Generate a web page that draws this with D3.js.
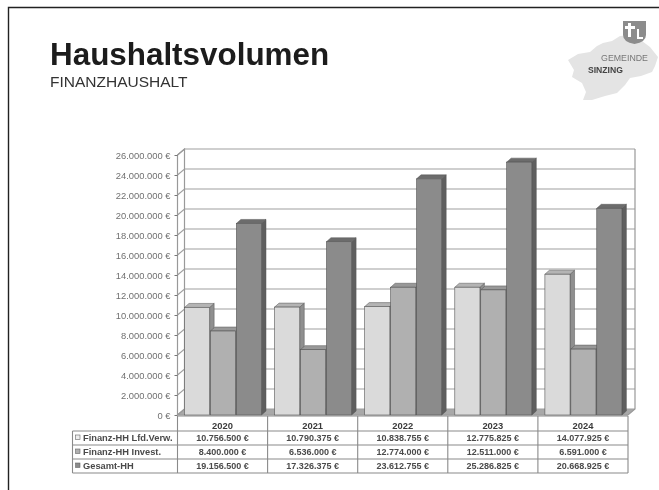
<!DOCTYPE html>
<html><head><meta charset="utf-8">
<script src="https://cdn.jsdelivr.net/npm/d3@7/dist/d3.min.js"></script>
<style>
html,body{margin:0;padding:0;background:#fff}
svg{display:block;font-family:"Liberation Sans",Arial,sans-serif;filter:blur(0.55px)}
</style></head><body>
<script>
const years = ["2020","2021","2022","2023","2024"];
const seriesNames = ["Finanz-HH Lfd.Verw.","Finanz-HH Invest.","Gesamt-HH"];
const lfdVerw = [10756500,10790375,10838755,12775825,14077925];
const invest = [8400000,6536000,12774000,12511000,6591000];
const gesamt = [19156500,17326375,23612755,25286825,20668925];
const seriesValues = [lfdVerw,invest,gesamt];
const title = "Haushaltsvolumen";
const subtitle = "FINANZHAUSHALT";

const faceColors = ["#dadada","#b0b0b0","#8b8b8b"];
const sideColors = ["#8f8f8f","#787878","#5f5f5f"];
const topColors = ["#b4b4b4","#989898","#6c6c6c"];
const keyColors = ["#eeeeee","#b0b0b0","#8b8b8b"];

const W=659,H=490;
const svg=d3.select("body").append("svg").attr("width",W).attr("height",H);
const DX=7,DY=-6;
const xLeft=177.5,xRight=628,y0=415,yTop=155;
const y=d3.scaleLinear().domain([0,26000000]).range([y0,yTop]);
const x=d3.scaleBand().domain(years).range([xLeft,xRight]);
const inner=d3.scaleBand().domain(d3.range(3)).range([7,84]).paddingInner(0.03);
const nf=d3.formatLocale({decimal:",",thousands:".",grouping:[3],currency:["","\u00a0€"]}).format(",.0f");
const eur=v=>nf(v)+" €";

// page frame
svg.append("path").attr("d",`M8.5,${H} V7.5 H${W}`).attr("fill","none").attr("stroke","#222").attr("stroke-width",1.4);

// headings
svg.append("text").attr("x",50).attr("y",65).attr("font-size",31.4).attr("font-weight","bold").attr("fill","#1c1c1c").text(title);
svg.append("text").attr("x",50).attr("y",87).attr("font-size",15.5).attr("fill","#333").text(subtitle);

// logo
const logo=svg.append("g");
logo.append("path").attr("fill","#e4e4e4").attr("d","M568,60 L578,54 L590,52 L597,46 L603,43 L612,41 L620,36 L630,35 L642,41 L650,47 L658,57 L655,66 L652,72 L641,76 L630,78 L625,85 L617,93 L605,96 L592,100 L583,100 L586,92 L582,83 L572,77 L574,70 Z");
logo.append("path").attr("fill","#8c8c8c").attr("d","M623,21 H646 V35 Q646,42 634.5,44 Q623,42 623,35 Z");
logo.append("path").attr("fill","#fff").attr("d","M628,23 H631 V26 H635 V29 H631 V37 H628 V29 H625 V26 H628 Z M637,29 H639 V37 H643 V39 H637 Z");
logo.append("text").attr("x",648).attr("y",61).attr("text-anchor","end").attr("font-size",8.8).attr("fill","#777").text("GEMEINDE");
logo.append("text").attr("x",588).attr("y",72.7).attr("font-size",8.6).attr("font-weight","bold").attr("fill","#444").text("SINZING");

// walls + grid
const grid="#a0a0a0";
const plot=svg.append("g");
plot.append("path").attr("d",`M${xLeft},${y0} L${xLeft+DX},${y0+DY} L${xRight+DX},${y0+DY} L${xRight},${y0} Z`).attr("fill","#a8a8a8");
plot.selectAll("path.grid").data(y.ticks(13)).join("path").attr("class","grid")
  .attr("d",d=>`M${xLeft},${y(d)} L${xLeft+DX},${y(d)+DY} H${xRight+DX}`)
  .attr("fill","none").attr("stroke",grid).attr("stroke-width",1.2);
plot.append("path").attr("d",`M${xLeft},${y0} V${yTop} L${xLeft+DX},${yTop+DY} V${y0+DY} M${xRight+DX},${yTop+DY} V${y0+DY} L${xRight},${y0} H${xLeft} L${xLeft+DX},${y0+DY}`)
  .attr("fill","none").attr("stroke","#999").attr("stroke-width",1.2);

// axis
const axis=d3.axisLeft(y).tickValues(y.ticks(13)).tickFormat(eur).tickSize(3).tickPadding(4);
const ag=svg.append("g").attr("transform",`translate(${xLeft},0)`).call(axis);
ag.select(".domain").remove();
ag.selectAll("line").attr("stroke","#777");
ag.selectAll("text").attr("font-size",9.4).attr("fill","#707070").attr("font-family","'Liberation Sans',Arial,sans-serif");

// bars
const bd=4.5,bh=-4;
years.forEach((yr,i)=>{
  const g=svg.append("g").attr("transform",`translate(${x(yr)},0)`);
  seriesValues.forEach((vals,s)=>{
    const xa=inner(s),w=inner.bandwidth(),t=y(vals[i]);
    g.append("path").attr("d",`M${xa+w},${t} l${bd},${bh} V${y0+bh} L${xa+w},${y0} Z`).attr("fill",sideColors[s]).attr("stroke","#555").attr("stroke-width",.5);
    g.append("path").attr("d",`M${xa},${t} l${bd},${bh} H${xa+w+bd} L${xa+w},${t} Z`).attr("fill",topColors[s]).attr("stroke","#555").attr("stroke-width",.5);
    g.append("rect").attr("x",xa).attr("y",t).attr("width",w).attr("height",y0-t).attr("fill",faceColors[s]).attr("stroke","#555").attr("stroke-width",.6);
  });
});

// table
const tLeft=72.5,rows=[416,431,445,459,473];
const tg=svg.append("g");
const tc="#8a8a8a";
const hl=(yy,a)=>tg.append("line").attr("x1",a).attr("x2",xRight).attr("y1",yy).attr("y2",yy).attr("stroke",tc).attr("stroke-width",1.1);
rows.forEach((r,i)=>hl(r,i===0?xLeft:tLeft));
const vl=(xx,a)=>tg.append("line").attr("x1",xx).attr("x2",xx).attr("y1",a).attr("y2",rows[4]).attr("stroke",tc).attr("stroke-width",1.1);
vl(tLeft,rows[1]);
years.forEach(yr=>vl(x(yr),rows[0]));
vl(xRight,rows[0]);
years.forEach(yr=>{
  tg.append("text").attr("x",x(yr)+x.bandwidth()/2).attr("y",rows[0]+13).attr("text-anchor","middle")
    .attr("font-size",9.4).attr("font-weight","bold").attr("fill","#3a3a3a").text(yr);
});
seriesNames.forEach((n,s)=>{
  const by=rows[s+1]+10;
  tg.append("rect").attr("x",75.5).attr("y",by-6).attr("width",4.5).attr("height",4.5).attr("fill",keyColors[s]).attr("stroke","#666").attr("stroke-width",.6);
  tg.append("text").attr("x",83).attr("y",by).attr("font-size",9.3).attr("font-weight","bold").attr("fill","#4a4a4a").text(n);
  years.forEach((yr,i)=>{
    tg.append("text").attr("x",x(yr)+x.bandwidth()/2).attr("y",by).attr("text-anchor","middle")
      .attr("font-size",9).attr("font-weight","bold").attr("fill","#4a4a4a").text(eur(seriesValues[s][i]));
  });
});
</script>
</body></html>
